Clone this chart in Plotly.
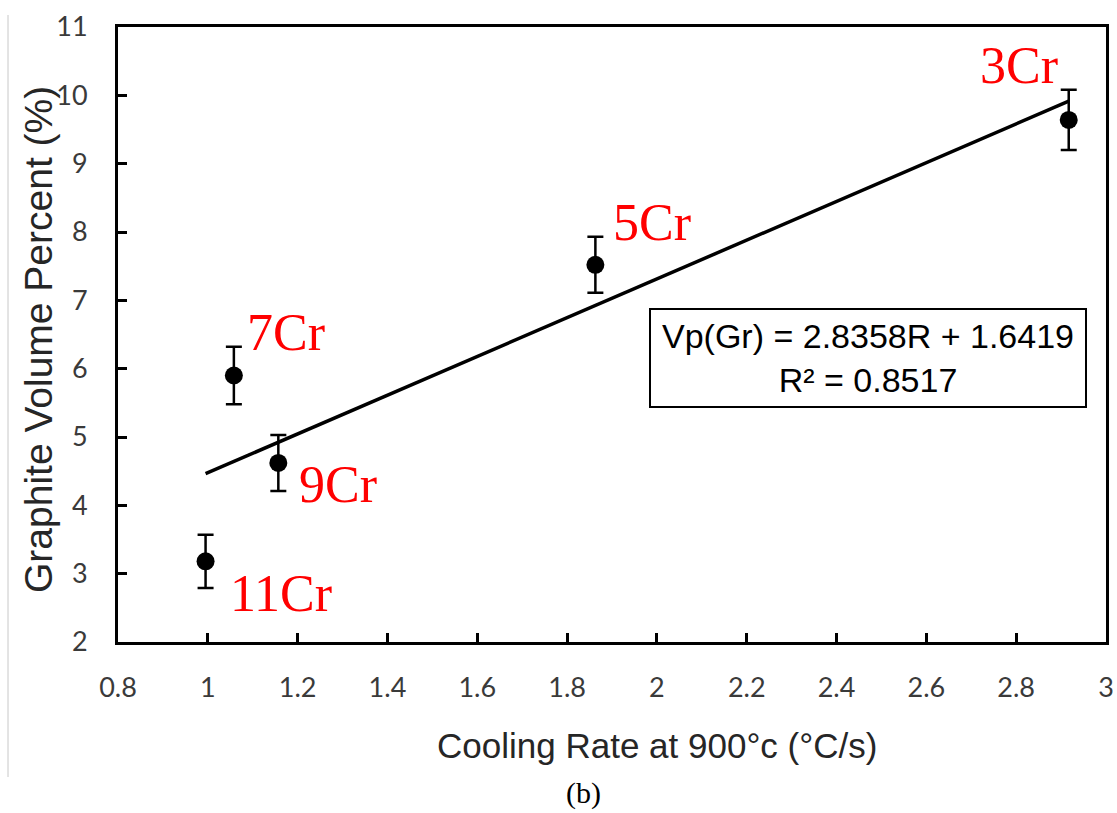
import plotly.graph_objects as go

# ---- data ----
alloys = ["11Cr", "7Cr", "9Cr", "5Cr", "3Cr"]
cooling_rate = [0.995, 1.058, 1.157, 1.863, 2.917]
graphite_vp = [3.18, 5.90, 4.62, 7.52, 9.64]
vp_error = [0.39, 0.42, 0.41, 0.41, 0.44]

# label positions (data coords)
label_x = [1.162, 1.173, 1.289, 1.990, 2.806]
label_y = [2.71, 6.53, 4.30, 8.14, 10.44]

# linear fit reported on the chart
slope = 2.8358
intercept = 1.6419
r_squared = 0.8517

x_ticks = [0.8, 1, 1.2, 1.4, 1.6, 1.8, 2, 2.2, 2.4, 2.6, 2.8, 3]
y_ticks = [2, 3, 4, 5, 6, 7, 8, 9, 10, 11]

fit_x = [min(cooling_rate), max(cooling_rate)]
fit_y = [slope * v + intercept for v in fit_x]

fig = go.Figure()

fig.add_trace(go.Scatter(
    x=fit_x, y=fit_y, mode="lines",
    line=dict(color="black", width=3.5),
    hoverinfo="skip", showlegend=False,
))

fig.add_trace(go.Scatter(
    x=cooling_rate, y=graphite_vp, mode="markers",
    marker=dict(color="black", size=18),
    error_y=dict(type="data", array=vp_error, visible=True,
                 color="black", thickness=2.5, width=8),
    showlegend=False,
))

for name, lx, ly in zip(alloys, label_x, label_y):
    fig.add_annotation(
        x=lx, y=ly, text=name, showarrow=False,
        font=dict(family="Liberation Serif, Times New Roman, serif",
                  size=52, color="#ff0000"),
        xanchor="center", yanchor="middle",
    )

fig.add_annotation(
    x=2.471, y=6.16,
    text=f"Vp(Gr) = {slope}R + {intercept}<br>R² = {r_squared}",
    showarrow=False, align="center",
    font=dict(family="Liberation Sans, Arial, sans-serif", size=34, color="black"),
    bordercolor="black", borderwidth=2, bgcolor="white",
    width=432, height=94,
    xanchor="center", yanchor="middle",
)

PW, PH = 988, 615

# x-axis title (slightly right of centre, as in the reference)
fig.add_annotation(
    xref="paper", yref="paper", x=(657 - 118) / PW, y=-(745 - 642) / PH,
    text="Cooling Rate at 900°c (°C/s)", showarrow=False,
    font=dict(family="Liberation Sans, Arial, sans-serif", size=35, color="#262626"),
    xanchor="center", yanchor="middle",
)

# y-axis title
fig.add_annotation(
    xref="paper", yref="paper", x=(38 - 118) / PW, y=(642 - 340) / PH,
    text="Graphite Volume Percent (%)", showarrow=False, textangle=-90,
    font=dict(family="Liberation Sans, Arial, sans-serif", size=39, color="#262626"),
    xanchor="center", yanchor="middle",
)

fig.add_annotation(
    xref="paper", yref="paper", x=(583 - 118) / PW, y=-(812 - 642) / PH,
    text="(b)", showarrow=False,
    font=dict(family="Liberation Serif, Times New Roman, serif", size=30, color="black"),
    xanchor="center", yanchor="bottom",
)

# thin grey border at the far left of the image
fig.add_shape(type="line", xref="paper", yref="paper",
              x0=(8 - 118) / PW, x1=(8 - 118) / PW,
              y0=(642 - 15) / PH, y1=-(777 - 642) / PH,
              line=dict(color="#c8c8c8", width=1))

tick_font = dict(family="Lato, Liberation Sans, sans-serif", size=27, color="#3a3a3a")

fig.update_xaxes(
    range=[0.8, 3], tickvals=x_ticks, ticktext=[f"{v:g}" for v in x_ticks],
    showline=True, linecolor="black", linewidth=3, mirror=True,
    ticks="inside", ticklen=9, tickwidth=2.5, tickcolor="black",
    showgrid=False, zeroline=False, tickfont=tick_font,
    ticklabelstandoff=20,
)
fig.update_yaxes(
    range=[2, 11], tickvals=y_ticks, ticktext=[str(v) for v in y_ticks],
    showline=True, linecolor="black", linewidth=3, mirror=True,
    ticks="inside", ticklen=9, tickwidth=2.5, tickcolor="black",
    showgrid=False, zeroline=False, tickfont=tick_font,
    ticklabelstandoff=22,
)

fig.update_layout(
    width=1117, height=813,
    margin=dict(l=118, r=11, t=27, b=171, autoexpand=False),
    paper_bgcolor="white", plot_bgcolor="white",
)

fig.write_html("out.html")
